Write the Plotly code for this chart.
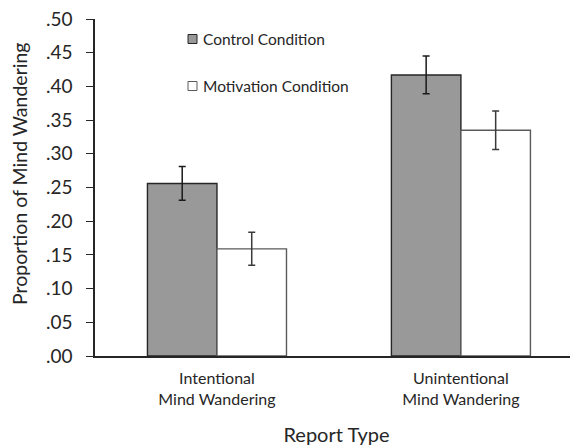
import plotly.graph_objects as go

categories = ["Intentional<br>Mind Wandering", "Unintentional<br>Mind Wandering"]
series_names = ["Control Condition", "Motivation Condition"]
control_vals = [0.256, 0.417]
control_err = [0.025, 0.028]
motivation_vals = [0.159, 0.335]
motivation_err = [0.0245, 0.0285]
ytick_vals = [0.00, 0.05, 0.10, 0.15, 0.20, 0.25, 0.30, 0.35, 0.40, 0.45, 0.50]
ytick_text = [".00", ".05", ".10", ".15", ".20", ".25", ".30", ".35", ".40", ".45", ".50"]

# page has an 8px body margin
OFF = 8
W, H = 570, 438
L, R, T, B = 87, 0, 11, 90
PW, PH = W - L - R, H - T - B
FONT = "Lato, 'Open Sans', sans-serif"
TXT = "#262626"

styles = [
    dict(fill="#999999", line="#262626", err="#1a1a1a"),
    dict(fill="#ffffff", line="#5a5a5a", err="#3a3a3a"),
]

xs = list(range(len(categories)))
fig = go.Figure()
for vals, errs, name, st in [
    (control_vals, control_err, series_names[0], styles[0]),
    (motivation_vals, motivation_err, series_names[1], styles[1]),
]:
    fig.add_trace(go.Bar(
        x=xs, y=vals, name=name,
        marker=dict(color=st["fill"], line=dict(color=st["line"], width=1.4)),
        error_y=dict(type="data", array=errs, visible=True, color=st["err"],
                     thickness=1.5, width=3.5),
        showlegend=False,
    ))

def px_x(p):
    return (p - OFF - L) / PW

def px_y(p):
    return 1 - (p - OFF - T) / PH

# manual legend
legend_rows = [(39, styles[0], series_names[0]), (86, styles[1], series_names[1])]
for yc, st, name in legend_rows:
    fig.add_shape(type="rect", xref="paper", yref="paper",
                  x0=px_x(188), x1=px_x(197), y0=px_y(yc + 4.5), y1=px_y(yc - 4.5),
                  fillcolor=st["fill"], line=dict(color=st["line"], width=1))
    fig.add_annotation(xref="paper", yref="paper", x=px_x(201), y=px_y(yc),
                       text=name, showarrow=False, xanchor="left", yanchor="middle",
                       font=dict(family=FONT, size=15.5, color=TXT))

# y-axis title
fig.add_annotation(xref="paper", yref="paper", x=px_x(19), y=px_y(174),
                   text="Proportion of Mind Wandering", textangle=-90, showarrow=False,
                   xanchor="center", yanchor="middle", borderpad=0,
                   font=dict(family=FONT, size=19.5, color=TXT))

fig.update_layout(
    width=W, height=H,
    margin=dict(l=L, r=R, t=T, b=B, pad=0),
    paper_bgcolor="white", plot_bgcolor="white",
    barmode="group", bargap=0.43, bargroupgap=0,
    font=dict(family=FONT, color=TXT),
    showlegend=False,
)
fig.update_xaxes(
    range=[-0.5, 1.48], tickvals=xs, ticktext=categories,
    showline=True, linecolor="#262626", linewidth=1.5,
    ticks="", showgrid=False, zeroline=False,
    tickfont=dict(family=FONT, size=16, color=TXT),
    ticklabelstandoff=7,
    title=dict(text="Report Type", font=dict(family=FONT, size=20, color=TXT), standoff=24),
)
fig.update_yaxes(
    range=[0, 0.5], tickvals=ytick_vals, ticktext=ytick_text,
    showline=True, linecolor="#262626", linewidth=1.5,
    ticks="outside", ticklen=7, tickcolor="#262626", tickwidth=1.3,
    showgrid=False, zeroline=False,
    tickfont=dict(family=FONT, size=19, color=TXT),
    ticklabelstandoff=10, ticklabeloverflow="allow",
)

fig.write_html("out.html")
